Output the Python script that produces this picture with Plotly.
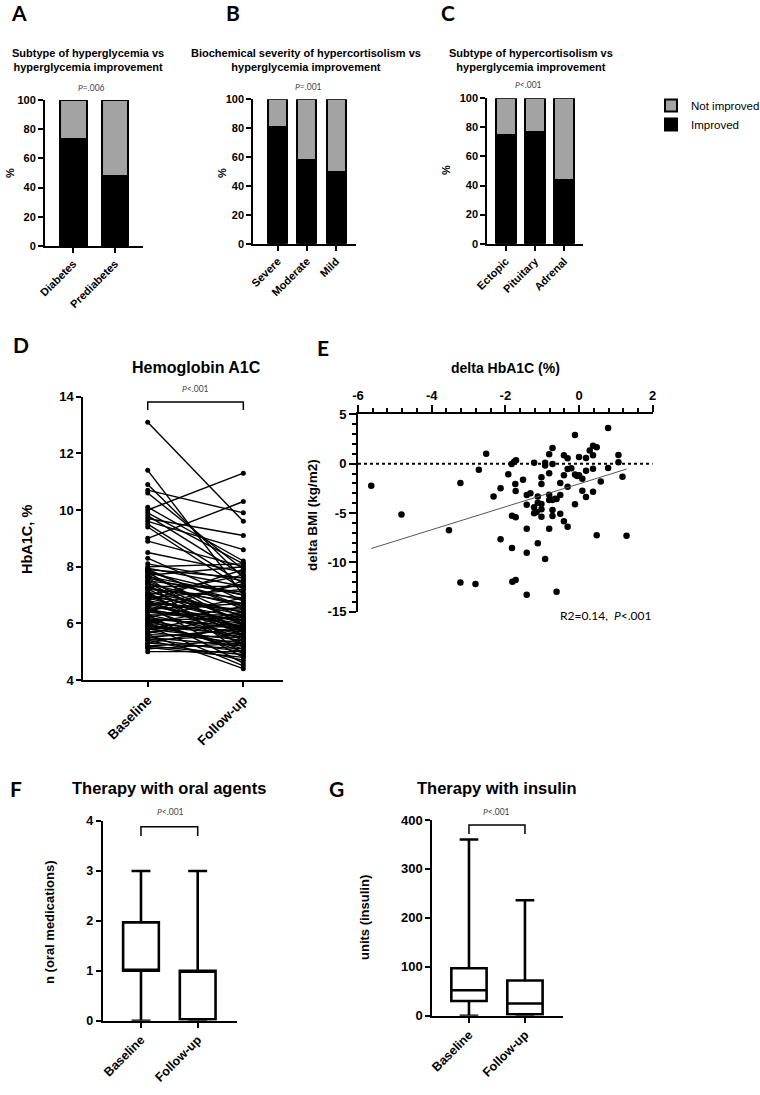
import plotly.graph_objects as go

W, H = 760, 1095

# ---------------- data ----------------
# Panel A
a_cats = ["Diabetes", "Prediabetes"]
a_improved = [73, 48]
a_not = [27, 52]
# Panel B
b_cats = ["Severe", "Moderate", "Mild"]
b_improved = [80.5, 58, 50]
b_not = [19.5, 42, 50]
# Panel C
c_cats = ["Ectopic", "Pituitary", "Adrenal"]
c_improved = [75, 77, 44]
c_not = [25, 23, 56]

# Panel D (paired HbA1C values)
d_labels = ["Baseline", "Follow-up"]
d_baseline = [13.1, 11.4, 10.9, 10.7, 10.6, 10.1, 10.0, 9.9, 9.8, 9.7, 9.6, 9.5, 9.4, 9.0, 8.9, 8.5,
              8.3, 8.1, 8.0,
              7.9, 7.9, 7.8, 7.8, 7.7, 7.7, 7.6, 7.6, 7.5, 7.5, 7.4, 7.4, 7.3, 7.3, 7.2, 7.2, 7.1, 7.1,
              7.0, 7.0, 7.0, 6.9, 6.9, 6.8, 6.8, 6.8, 6.7, 6.7, 6.6, 6.6, 6.6, 6.5, 6.5, 6.5, 6.4, 6.4,
              6.3, 6.3, 6.3, 6.2, 6.2, 6.1, 6.1, 6.1, 6.0, 6.0, 6.0, 5.9, 5.9, 5.8, 5.8, 5.8, 5.7, 5.7,
              5.6, 5.6, 5.5, 5.5, 5.4, 5.4, 5.3, 5.3, 5.2, 5.2, 5.1, 5.0,
              7.95, 7.85, 7.65, 7.45, 7.25, 6.95, 6.75, 6.45, 6.15, 5.95, 5.65, 5.45, 5.15]
d_followup = [9.6, 7.0, 7.6, 9.9, 7.9, 8.2, 11.3, 8.1, 7.7, 9.1, 8.6, 7.4, 7.2, 10.3, 8.0, 7.8,
              6.8, 7.5, 8.1,
              6.5, 7.6, 5.9, 7.0, 6.2, 8.0, 6.8, 5.5, 7.1, 6.0, 6.6, 4.9, 7.3, 6.1, 5.8, 6.9, 6.4, 5.2,
              7.7, 6.3, 5.6, 6.0, 7.2, 6.2, 5.4, 7.9, 6.5, 5.7, 6.1, 7.4, 4.8, 5.9, 6.7, 5.3, 6.0, 7.5,
              5.6, 6.3, 4.6, 5.8, 6.9, 5.5, 6.2, 5.0, 5.7, 6.6, 5.1, 5.6, 4.5, 6.4, 5.4, 5.9, 5.3, 6.0,
              5.5, 4.4, 5.8, 5.2, 5.6, 4.7, 5.1, 5.9, 5.4, 4.9, 5.3, 5.0,
              7.3, 6.6, 7.0, 5.7, 6.7, 6.4, 5.8, 6.1, 5.9, 5.2, 6.3, 5.0, 4.8]

# Panel E (delta HbA1C vs delta BMI)
e_dhba1c = [-5.64, -4.82, -3.53, -3.22, -3.22, -2.81, -2.72, -2.52, -2.32, -2.13, -2.13, -1.92,
            -1.83, -1.76, -1.71, -1.73, -1.72, -1.82, -1.72, -1.82, -1.81, -1.72, -1.52, -1.42,
            -1.32, -1.42, -1.42, -1.42, -1.42, -1.22, -1.22, -1.22, -1.12, -1.12, -1.12, -1.02,
            -1.02, -1.02, -1.02, -1.02, -0.92, -0.92, -0.92, -0.81, -0.81, -0.81, -0.81, -0.81,
            -0.72, -0.72, -0.72, -0.72, -0.72, -0.61, -0.61, -0.51, -0.51, -0.51, -0.41, -0.41,
            -0.41, -0.31, -0.31, -0.31, -0.31, -0.21, -0.11, -0.11, -0.11, 0.0, 0.0, 0.09, 0.09,
            0.19, 0.19, 0.19, 0.29, 0.38, 0.38, 0.38, 0.38, 0.48, 0.48, 0.59, 0.79, 0.79, 1.07,
            1.07, 1.18, 1.29, -0.05, -1.15, -0.65]
e_dbmi = [-2.23, -5.14, -6.76, -1.96, -12.03, -12.2, -0.61, 1.01, -3.34, -2.5, -7.67, -1.08,
          -0.03, 0.2, 0.34, -2.06, -2.77, -5.27, -5.44, -8.55, -11.96, -11.79, -1.62, -3.18,
          -3.0, -4.16, -6.59, -9.02, -13.28, 0.1, -4.43, -5.03, -3.34, -3.95, -8.07, -1.39,
          -2.06, -4.09, -4.63, -5.37, 0.1, -0.2, -9.66, 0.95, -0.98, -3.14, -3.68, -6.59,
          1.59, -0.03, -3.68, -4.7, -5.3, -3.58, -12.97, -1.96, -3.18, -5.07, 0.84, -1.18,
          -5.84, 0.54, -0.54, -2.33, -6.39, -0.47, 2.91, -1.11, -4.12, 0.68, -1.18, -1.52, -2.74,
          0.57, -0.71, -3.38, 1.32, 1.82, 0.84, -0.51, -2.84, 1.66, -7.26, -1.82, 3.61, -0.44,
          0.88, 0.14, -1.32, -7.3, -1.25, -4.9, -3.55]
e_fit_x = [-5.64, 1.29]
e_fit_y = [-8.6, -0.55]

# Panel F (oral agents, box: min/q1/median/q3/max)
f_labels = ["Baseline", "Follow-up"]
f_min = [0, 0]
f_q1 = [1, 0.03]
f_med = [1, 1]
f_q3 = [1.97, 1]
f_max = [3, 3]

# Panel G (insulin units)
g_labels = ["Baseline", "Follow-up"]
g_min = [0, 0]
g_q1 = [30, 3]
g_med = [52, 25]
g_q3 = [97, 72]
g_max = [360, 236]

# ---------------- helpers ----------------
def px(x):
    return x / W

def py(y):
    return 1 - y / H

ARIAL = "Liberation Sans"
CAL = "Lato"
BLACK = "black"
GREY = "#a3a3a3"

fig = go.Figure()

def add_stack(cats, imp, notimp, ax, width, legend):
    fig.add_trace(go.Bar(x=cats, y=imp, name="Improved", width=width,
                         marker=dict(color=BLACK, line=dict(color=BLACK, width=2)),
                         xaxis="x" + ax, yaxis="y" + ax, showlegend=legend, legendrank=2))
    fig.add_trace(go.Bar(x=cats, y=notimp, name="Not improved", width=width,
                         marker=dict(color=GREY, line=dict(color=BLACK, width=2)),
                         xaxis="x" + ax, yaxis="y" + ax, showlegend=legend, legendrank=1))

add_stack(a_cats, a_improved, a_not, "", 0.64, True)
add_stack(b_cats, b_improved, b_not, "2", 0.65, False)
add_stack(c_cats, c_improved, c_not, "3", 0.67, False)

# Panel D paired lines
xs, ys = [], []
for b, f in zip(d_baseline, d_followup):
    xs += [0, 1, None]
    ys += [b, f, None]
fig.add_trace(go.Scatter(x=xs, y=ys, mode="lines+markers", connectgaps=False,
                         line=dict(color=BLACK, width=1.4), marker=dict(color=BLACK, size=5),
                         xaxis="x4", yaxis="y4", showlegend=False))

# Panel E scatter + fit
fig.add_trace(go.Scatter(x=e_dhba1c, y=e_dbmi, mode="markers",
                         marker=dict(color=BLACK, size=6.5), xaxis="x5", yaxis="y5",
                         showlegend=False))
fig.add_trace(go.Scatter(x=e_fit_x, y=e_fit_y, mode="lines",
                         line=dict(color="#555555", width=1), xaxis="x5", yaxis="y5",
                         showlegend=False))

# Panel F / G boxes
fig.add_trace(go.Box(x=f_labels, q1=f_q1, median=f_med, q3=f_q3, lowerfence=f_min,
                     upperfence=f_max, fillcolor="white", line=dict(color=BLACK, width=2.6),
                     whiskerwidth=0.53, width=0.63, boxpoints=False,
                     xaxis="x6", yaxis="y6", showlegend=False))
fig.add_trace(go.Box(x=g_labels, q1=g_q1, median=g_med, q3=g_q3, lowerfence=g_min,
                     upperfence=g_max, fillcolor="white", line=dict(color=BLACK, width=2.6),
                     whiskerwidth=0.53, width=0.63, boxpoints=False,
                     xaxis="x7", yaxis="y7", showlegend=False))

# ---------------- axes ----------------
def base_axis(**kw):
    d = dict(showline=True, linecolor=BLACK, linewidth=2, ticks="outside", ticklen=5,
             tickwidth=2, tickcolor=BLACK, showgrid=False, zeroline=False, fixedrange=True,
             automargin=False)
    d.update(kw)
    return d

def tf(size, bold=True):
    return dict(family=ARIAL, size=size, color=BLACK, weight="bold" if bold else "normal")

layout_axes = {}
# top row
for ax, xd, yd, rng in [("", (45, 143.3), (100, 246), (-0.679, 1.678)),
                        ("2", (253.3, 355.7), (99.3, 243.7), (-0.836, 2.671)),
                        ("3", (487.3, 583.3), (98.3, 243.7), (-0.636, 2.663))]:
    layout_axes["xaxis" + ax] = base_axis(domain=[px(xd[0]), px(xd[1])], anchor="y" + ax,
                                          type="category", range=list(rng), tickangle=-45,
                                          tickfont=tf(11))
    layout_axes["yaxis" + ax] = base_axis(domain=[py(yd[1]), py(yd[0])], anchor="x" + ax,
                                          range=[0, 100], dtick=20, tickfont=tf(11))

# D
layout_axes["xaxis4"] = base_axis(domain=[px(83.3), px(283)], anchor="y4", range=[-0.674, 1.415],
                                  tickvals=[0, 1], ticktext=d_labels, tickangle=-45,
                                  tickfont=tf(13.5))
layout_axes["yaxis4"] = base_axis(domain=[py(680), py(396.7)], anchor="x4", range=[4, 14],
                                  dtick=2, tickfont=tf(13))
# E
layout_axes["xaxis5"] = base_axis(domain=[px(358), px(652.7)], anchor="y5", side="top",
                                  range=[-6, 2], tickvals=[-6, -4, -2, 0, 2],
                                  ticktext=["-6", "-4", "-2", "0", "2"], tickfont=tf(13),
                                  ticklen=7,
                                  minor=dict(ticks="outside", tick0=-6, dtick=0.4, ticklen=4,
                                             tickwidth=1.5, tickcolor=BLACK))
layout_axes["yaxis5"] = base_axis(domain=[py(611.7), py(414.3)], anchor="x5", range=[-15, 5],
                                  tickvals=[5, 0, -5, -10, -15],
                                  ticktext=["5", "0", "-5", "-10", "-15"], tickfont=tf(13),
                                  ticklen=7,
                                  minor=dict(ticks="outside", tick0=0, dtick=1, ticklen=4,
                                             tickwidth=1.5, tickcolor=BLACK))
# F
layout_axes["xaxis6"] = base_axis(domain=[px(102.7), px(236.7)], anchor="y6", type="category",
                                  range=[-0.675, 1.688], tickangle=-45, tickfont=tf(12.5))
layout_axes["yaxis6"] = base_axis(domain=[py(1020.7), py(821)], anchor="x6", range=[0, 4],
                                  dtick=1, tickfont=tf(12.5))
# G
layout_axes["xaxis7"] = base_axis(domain=[px(432.3), px(562.7)], anchor="y7", type="category",
                                  range=[-0.655, 1.674], tickangle=-45, tickfont=tf(12.5))
layout_axes["yaxis7"] = base_axis(domain=[py(1015.7), py(820)], anchor="x7", range=[0, 400],
                                  dtick=100, tickfont=tf(13))

# ---------------- annotations ----------------
ann = []

def text(x, y, s, size, family=ARIAL, bold=False, angle=0, color=BLACK, xanchor="center"):
    ann.append(dict(x=px(x), y=py(y), xref="paper", yref="paper", text=s, showarrow=False,
                    xanchor=xanchor, yanchor="middle", textangle=angle,
                    font=dict(family=family, size=size, color=color,
                              weight="bold" if bold else "normal")))

# panel letters
for lx, ly, l in [(19, 13, "A"), (233, 13, "B"), (448, 13, "C"), (21, 345, "D"),
                  (323, 347, "E"), (16, 788, "F"), (336, 788, "G")]:
    text(lx, ly, l, 21, family=CAL, bold=True)

# top-row titles
text(88, 60, "Subtype of hyperglycemia vs<br>hyperglycemia improvement", 11, bold=True)
text(306, 60, "Biochemical severity of hypercortisolism vs<br>hyperglycemia improvement", 11, bold=True)
text(531, 60, "Subtype of hypercortisolism vs<br>hyperglycemia improvement", 11, bold=True)

# p-values
PC = "#444444"
text(91, 88, "<i>P</i>=.006", 8.5, family=CAL, color=PC)
text(308, 87, "<i>P</i>=.001", 8.5, family=CAL, color=PC)
text(528, 85, "<i>P</i>&lt;.001", 8.5, family=CAL, color=PC)
text(195, 389, "<i>P</i>&lt;.001", 8.5, family=CAL, color=PC)
text(170, 812, "<i>P</i>&lt;.001", 8.5, family=CAL, color=PC)
text(496, 812, "<i>P</i>&lt;.001", 8.5, family=CAL, color=PC)

# y labels
text(10, 173, "%", 11, bold=True, angle=-90)
text(222, 173, "%", 11, bold=True, angle=-90)
text(446, 170, "%", 11, bold=True, angle=-90)
text(27, 540, "HbA1C, %", 14.5, bold=True, angle=-90)
text(312, 515, "delta BMI (kg/m2)", 13.5, bold=True, angle=-90)
text(49, 922, "n (oral medications)", 13, bold=True, angle=-90)
text(364, 918, "units (insulin)", 13, bold=True, angle=-90)

# other titles
text(196, 367, "Hemoglobin A1C", 16, bold=True)
text(505, 368, "delta HbA1C (%)", 14, bold=True)
text(169, 788, "Therapy with oral agents", 16.5, bold=True)
text(497, 788, "Therapy with insulin", 16.5, bold=True)
text(653, 615, "R2=0.14,  <i>P</i>&lt;.001", 12, family=CAL, xanchor="right")

# ---------------- shapes ----------------
shapes = []

def bracket(ax, y_low, y_top):
    shapes.append(dict(type="path", xref="x" + ax, yref="y" + ax,
                       path=f"M 0,{y_low} L 0,{y_top} L 1,{y_top} L 1,{y_low}",
                       line=dict(color=BLACK, width=1.5)))

bracket("4", 13.53, 13.81)
bracket("6", 3.70, 3.886)
bracket("7", 371.4, 389.8)
shapes.append(dict(type="line", xref="x5", yref="y5", x0=-6, x1=2, y0=0, y1=0,
                   line=dict(color=BLACK, width=2, dash="dot")))

fig.update_layout(
    width=W, height=H, margin=dict(l=0, r=0, t=0, b=0, autoexpand=False),
    paper_bgcolor="white", plot_bgcolor="white",
    barmode="stack", boxmode="overlay",
    annotations=ann, shapes=shapes,
    legend=dict(x=px(651), y=py(91), xanchor="left", yanchor="top",
                traceorder="normal", itemwidth=30,
                bgcolor="rgba(0,0,0,0)",
                font=dict(family=ARIAL, size=11.5, color=BLACK), tracegroupgap=0),
    **layout_axes,
)

fig.write_html("out.html", config={"displayModeBar": False},
               post_script="document.body.style.margin='0px';document.body.style.overflow='hidden';")
